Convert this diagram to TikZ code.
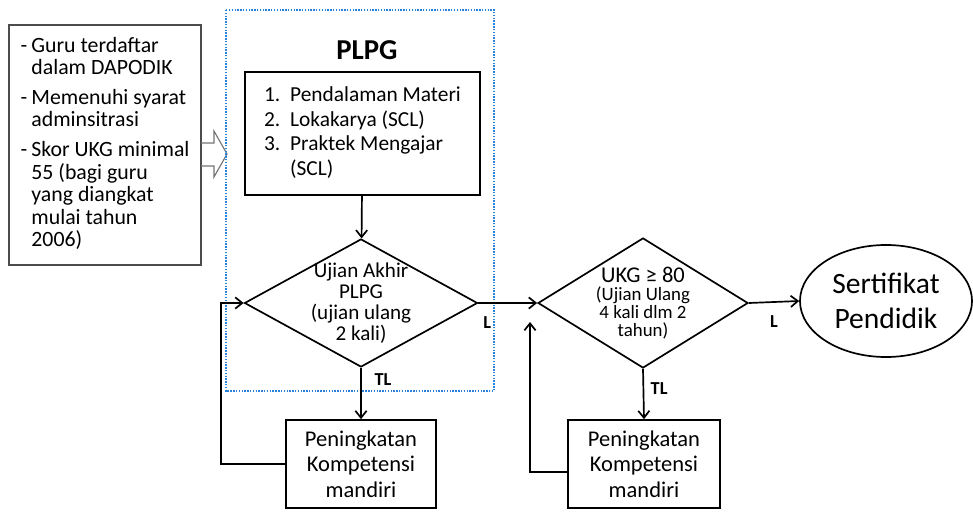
\documentclass[tikz,border=0pt]{standalone}
\usepackage{fontspec}
\setmainfont{Carlito}
\usetikzlibrary{shapes.geometric,arrows.meta}
\definecolor{frameblue}{RGB}{40,130,220}
\tikzset{
  box/.style={draw, line width=1.2pt, align=center, font=\fontsize{16}{18}\selectfont},
  decision/.style={diamond, draw, line width=1.2pt, inner sep=0pt},
  flow/.style={line width=1.2pt, -{Straight Barb[length=5pt,width=8pt]}},
  lbl/.style={font=\bfseries\fontsize{13}{14}\selectfont, inner sep=0pt}
}
\begin{document}
\begin{tikzpicture}[x=0.025cm, y=-0.025cm]
  \useasboundingbox (0,0) rectangle (973,512);

  % syarat peserta
  \node[draw=black!70, line width=0.8pt, minimum width=4.8cm, minimum height=6cm,
        font=\fontsize{15.5}{16}\selectfont] (syarat) at (105,145) {%
    \begin{tabular}{@{}l@{\hspace{3pt}}l@{}}
      - & Guru terdaftar\\
        & dalam DAPODIK\\[5pt]
      - & Memenuhi syarat\\
        & adminsitrasi\\[5pt]
      - & Skor UKG minimal\\
        & 55 (bagi guru\\
        & yang diangkat\\
        & mulai tahun\\
        & 2006)
    \end{tabular}};

  % panah masuk
  \draw[black!55, line width=0.8pt] (201,143) -- (214,143) -- (214,131) -- (227,154)
    -- (214,177) -- (214,166) -- (201,166);

  % kotak PLPG
  \draw[frameblue, densely dotted, line width=1pt] (226,10) rectangle (494,391);
  \node[font=\bfseries\fontsize{20.5}{22}\selectfont] (plpg) at (367,50) {PLPG};

  \node[box, minimum width=5.875cm, minimum height=3.075cm,
        font=\fontsize{15.2}{17.7}\selectfont] (materi) at (362.5,133.5) {%
    \begin{tabular}{@{}l@{\hspace{7pt}}l@{}}
      1. & Pendalaman Materi\\
      2. & Lokakarya (SCL)\\
      3. & Praktek Mengajar\\
         & (SCL)
    \end{tabular}};

  \node[decision, minimum width=5.825cm, minimum height=3.2cm] (ujian) at (361,303) {};
  \node[align=center, font=\fontsize{15}{15}\selectfont] (ujiantxt) at (ujian)
    {Ujian Akhir\\PLPG\\(ujian ulang\\2 kali)};

  % UKG
  \node[decision, minimum width=5.25cm, minimum height=3.25cm] (ukg) at (643,303) {};
  \node[align=center, font=\fontsize{13.4}{12.8}\selectfont] (ukgtxt) at (ukg)
    {{\fontsize{16}{16}\selectfont UKG ≥ 80}\\(Ujian Ulang\\4 kali dlm 2\\tahun)};

  \node[ellipse, draw, line width=1.2pt, minimum width=4.3cm, minimum height=2.8cm,
        align=center, font=\fontsize{21}{25}\selectfont] (sertifikat) at (886,301)
    {Sertifikat\\Pendidik};

  % peningkatan kompetensi
  \node[box, minimum width=3.75cm, minimum height=2.2cm] (pk1) at (361,464)
    {Peningkatan\\Kompetensi\\mandiri};
  \node[box, minimum width=3.8cm, minimum height=2.2cm] (pk2) at (644,464)
    {Peningkatan\\Kompetensi\\mandiri};

  % alur
  \draw[flow] (materi) -- (ujian);
  \draw[flow] (ujian.east) -- (ukg.west) node[lbl, pos=0.15, below=9pt] {L};
  \draw[flow] (ukg.east) -- (sertifikat.west) node[lbl, pos=0.5, below=9pt] {L};
  \draw[flow] (ujian.south) -- (pk1.north) node[lbl, pos=0.23, right=9pt] {TL};
  \draw[flow] (ukg.south) -- (pk2.north) node[lbl, pos=0.4, right=4.6pt] {TL};

  % ulang
  \draw[flow] (pk1.west) -- ++(-64,0) |- (ujian.west);
  \coordinate (balik) at (530,322);
  \draw[flow] ([yshift=-0.2cm]pk2.west) -| (balik);
\end{tikzpicture}
\end{document}
